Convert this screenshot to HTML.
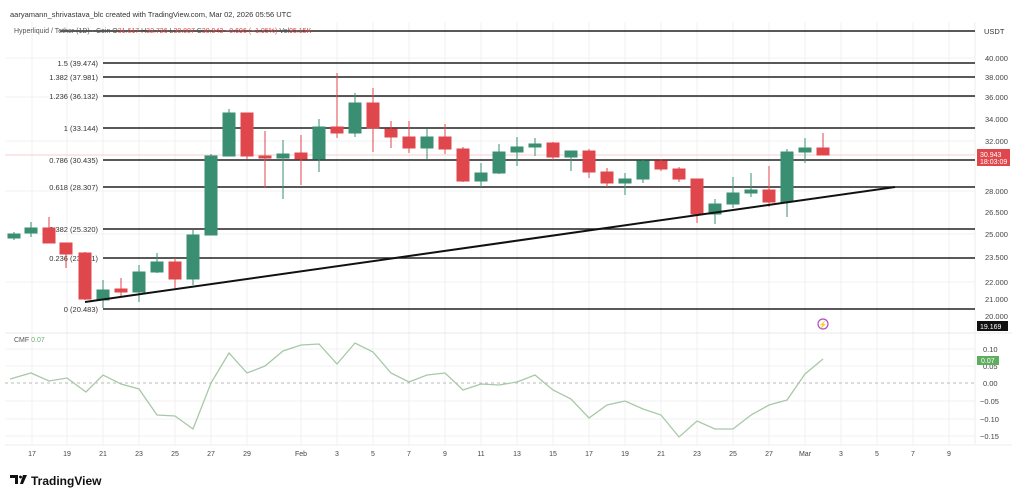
<!DOCTYPE html>
<html><head><meta charset="utf-8"><style>
html,body{margin:0;padding:0;background:#fff;}
svg{display:block;font-family:"Liberation Sans",sans-serif;}
</style></head><body>
<svg width="1024" height="502" viewBox="0 0 1024 502" xmlns="http://www.w3.org/2000/svg">
<rect width="1024" height="502" fill="#fff"/>
<text x="10" y="17" font-size="7.5" fill="#333">aaryamann_shrivastava_blc created with TradingView.com, Mar 02, 2026 05:56 UTC</text>
<!-- grid -->
<g stroke="#f0f0f0" stroke-width="1">
<line x1="32" y1="22" x2="32" y2="445"/><line x1="67" y1="22" x2="67" y2="445"/><line x1="103" y1="22" x2="103" y2="445"/><line x1="139" y1="22" x2="139" y2="445"/><line x1="175" y1="22" x2="175" y2="445"/><line x1="211" y1="22" x2="211" y2="445"/><line x1="247" y1="22" x2="247" y2="445"/><line x1="301" y1="22" x2="301" y2="445"/><line x1="337" y1="22" x2="337" y2="445"/><line x1="373" y1="22" x2="373" y2="445"/><line x1="409" y1="22" x2="409" y2="445"/><line x1="445" y1="22" x2="445" y2="445"/><line x1="481" y1="22" x2="481" y2="445"/><line x1="517" y1="22" x2="517" y2="445"/><line x1="553" y1="22" x2="553" y2="445"/><line x1="589" y1="22" x2="589" y2="445"/><line x1="625" y1="22" x2="625" y2="445"/><line x1="661" y1="22" x2="661" y2="445"/><line x1="697" y1="22" x2="697" y2="445"/><line x1="733" y1="22" x2="733" y2="445"/><line x1="769" y1="22" x2="769" y2="445"/><line x1="805" y1="22" x2="805" y2="445"/><line x1="841" y1="22" x2="841" y2="445"/><line x1="877" y1="22" x2="877" y2="445"/><line x1="913" y1="22" x2="913" y2="445"/><line x1="949" y1="22" x2="949" y2="445"/>
<line x1="5" y1="58" x2="975" y2="58"/><line x1="5" y1="97" x2="975" y2="97"/><line x1="5" y1="141" x2="975" y2="141"/><line x1="5" y1="191" x2="975" y2="191"/><line x1="5" y1="234" x2="975" y2="234"/><line x1="5" y1="282" x2="975" y2="282"/>
<line x1="5" y1="349" x2="975" y2="349"/><line x1="5" y1="366" x2="975" y2="366"/><line x1="5" y1="401" x2="975" y2="401"/><line x1="5" y1="419" x2="975" y2="419"/><line x1="5" y1="436" x2="975" y2="436"/>
</g>
<line x1="5" y1="155" x2="975" y2="155" stroke="#f3d0d0" stroke-width="1"/>
<line x1="5" y1="333" x2="1012" y2="333" stroke="#e8e8e8"/>
<line x1="5" y1="445" x2="1012" y2="445" stroke="#eee"/>
<line x1="975" y1="22" x2="975" y2="445" stroke="#eee"/>
<!-- fib lines -->
<g stroke="#222" stroke-width="1.6">
<line x1="60" y1="31" x2="975" y2="31"/>
<line x1="103" y1="63" x2="975" y2="63"/><line x1="103" y1="77" x2="975" y2="77"/><line x1="103" y1="96" x2="975" y2="96"/><line x1="103" y1="128" x2="975" y2="128"/><line x1="103" y1="160" x2="975" y2="160"/><line x1="103" y1="187" x2="975" y2="187"/><line x1="103" y1="229" x2="975" y2="229"/><line x1="103" y1="258" x2="975" y2="258"/><line x1="103" y1="309" x2="975" y2="309"/>
</g>
<g font-size="7.5" fill="#333" text-anchor="end">
<text x="98" y="66">1.5 (39.474)</text><text x="98" y="80">1.382 (37.981)</text><text x="98" y="99">1.236 (36.132)</text><text x="98" y="131">1 (33.144)</text><text x="98" y="163">0.786 (30.435)</text><text x="98" y="190">0.618 (28.307)</text><text x="98" y="232">0.382 (25.320)</text><text x="98" y="261">0.236 (23.471)</text><text x="98" y="312">0 (20.483)</text>
</g>
<text x="14" y="33" font-size="7" fill="#555">Hyperliquid / Tether (1D) · Coin  O<tspan fill="#d44">31.617</tspan> H<tspan fill="#d44">32.726</tspan> L<tspan fill="#d44">30.807</tspan> C<tspan fill="#d44">30.943 −0.696 (−1.95%)</tspan> Vol<tspan fill="#d44">95.15K</tspan></text>
<!-- candles -->
<g id="c"></g>
<g stroke-width="1">
<!-- generated below -->
<g stroke="#3a8f72" fill="#3a8f72">
<line x1="14" y1="232" x2="14" y2="240"/><rect x="8" y="234" width="12" height="4"/>
<line x1="31" y1="222" x2="31" y2="237"/><rect x="25" y="228" width="12" height="5"/>
<line x1="103" y1="280" x2="103" y2="308"/><rect x="97" y="290" width="12" height="10"/>
<line x1="139" y1="265" x2="139" y2="302"/><rect x="133" y="272" width="12" height="20"/>
<line x1="157" y1="253" x2="157" y2="273"/><rect x="151" y="262" width="12" height="10"/>
<line x1="193" y1="230" x2="193" y2="285"/><rect x="187" y="235" width="12" height="44"/>
<line x1="211" y1="154" x2="211" y2="235"/><rect x="205" y="156" width="12" height="79"/>
<line x1="229" y1="109" x2="229" y2="156"/><rect x="223" y="113" width="12" height="43"/>
<line x1="283" y1="140" x2="283" y2="199"/><rect x="277" y="154" width="12" height="4"/>
<line x1="319" y1="119" x2="319" y2="172"/><rect x="313" y="127" width="12" height="32"/>
<line x1="355" y1="93" x2="355" y2="137"/><rect x="349" y="103" width="12" height="30"/>
<line x1="427" y1="129" x2="427" y2="159"/><rect x="421" y="137" width="12" height="11"/>
<line x1="481" y1="163" x2="481" y2="187"/><rect x="475" y="173" width="12" height="8"/>
<line x1="499" y1="144" x2="499" y2="174"/><rect x="493" y="152" width="12" height="21"/>
<line x1="517" y1="137" x2="517" y2="166"/><rect x="511" y="147" width="12" height="5"/>
<line x1="535" y1="138" x2="535" y2="156"/><rect x="529" y="144" width="12" height="3"/>
<line x1="571" y1="151" x2="571" y2="171"/><rect x="565" y="151" width="12" height="6"/>
<line x1="625" y1="173" x2="625" y2="195"/><rect x="619" y="179" width="12" height="4"/>
<line x1="643" y1="160" x2="643" y2="183"/><rect x="637" y="161" width="12" height="18"/>
<line x1="715" y1="199" x2="715" y2="224"/><rect x="709" y="204" width="12" height="10"/>
<line x1="733" y1="177" x2="733" y2="208"/><rect x="727" y="193" width="12" height="11"/>
<line x1="751" y1="173" x2="751" y2="197"/><rect x="745" y="190" width="12" height="3"/>
<line x1="787" y1="149" x2="787" y2="217"/><rect x="781" y="152" width="12" height="50"/>
<line x1="805" y1="138" x2="805" y2="163"/><rect x="799" y="148" width="12" height="4"/>
</g>
<g stroke="#e0474c" fill="#e0474c">
<line x1="49" y1="217" x2="49" y2="243"/><rect x="43" y="228" width="12" height="15"/>
<line x1="66" y1="243" x2="66" y2="268"/><rect x="60" y="243" width="12" height="11"/>
<line x1="85" y1="252" x2="85" y2="300"/><rect x="79" y="253" width="12" height="46"/>
<line x1="121" y1="278" x2="121" y2="297"/><rect x="115" y="289" width="12" height="3"/>
<line x1="175" y1="258" x2="175" y2="288"/><rect x="169" y="262" width="12" height="17"/>
<line x1="247" y1="113" x2="247" y2="159"/><rect x="241" y="113" width="12" height="43"/>
<line x1="265" y1="131" x2="265" y2="188"/><rect x="259" y="156" width="12" height="2"/>
<line x1="301" y1="135" x2="301" y2="185"/><rect x="295" y="153" width="12" height="6"/>
<line x1="337" y1="73" x2="337" y2="138"/><rect x="331" y="127" width="12" height="6"/>
<line x1="373" y1="88" x2="373" y2="152"/><rect x="367" y="103" width="12" height="25"/>
<line x1="391" y1="121" x2="391" y2="148"/><rect x="385" y="129" width="12" height="8"/>
<line x1="409" y1="121" x2="409" y2="153"/><rect x="403" y="137" width="12" height="11"/>
<line x1="445" y1="124" x2="445" y2="154"/><rect x="439" y="137" width="12" height="12"/>
<line x1="463" y1="147" x2="463" y2="182"/><rect x="457" y="149" width="12" height="32"/>
<line x1="553" y1="142" x2="553" y2="160"/><rect x="547" y="143" width="12" height="14"/>
<line x1="589" y1="149" x2="589" y2="178"/><rect x="583" y="151" width="12" height="21"/>
<line x1="607" y1="168" x2="607" y2="187"/><rect x="601" y="172" width="12" height="11"/>
<line x1="661" y1="159" x2="661" y2="171"/><rect x="655" y="161" width="12" height="8"/>
<line x1="679" y1="167" x2="679" y2="182"/><rect x="673" y="169" width="12" height="10"/>
<line x1="697" y1="179" x2="697" y2="223"/><rect x="691" y="179" width="12" height="35"/>
<line x1="769" y1="166" x2="769" y2="207"/><rect x="763" y="190" width="12" height="12"/>
<line x1="823" y1="133" x2="823" y2="155"/><rect x="817" y="148" width="12" height="7"/>
</g>
</g>
<!-- trendline -->
<line x1="85" y1="302" x2="895" y2="187" stroke="#111" stroke-width="2"/>
<!-- lightning icon -->
<circle cx="823" cy="324" r="5" fill="none" stroke="#b04cc0" stroke-width="1.2"/>
<text x="823" y="327" font-size="7" fill="#b04cc0" text-anchor="middle">⚡</text>
<!-- right axis -->
<g font-size="7.5" fill="#444">
<text x="985" y="35">42.000</text><text x="985" y="61">40.000</text><text x="985" y="80">38.000</text><text x="985" y="100">36.000</text><text x="985" y="122">34.000</text><text x="985" y="144">32.000</text><text x="985" y="194">28.000</text><text x="985" y="215">26.500</text><text x="985" y="237">25.000</text><text x="985" y="260">23.500</text><text x="985" y="285">22.000</text><text x="985" y="302">21.000</text><text x="985" y="319">20.000</text>
</g>
<rect x="978" y="25" width="30" height="12" fill="#fff"/>
<text x="984" y="34" font-size="7.5" fill="#333">USDT</text>
<rect x="977" y="149" width="33" height="17" fill="#e0474c"/>
<text x="980" y="157" font-size="7" fill="#fff">30.943</text><text x="980" y="164" font-size="7" fill="#fff">18:03:09</text>
<rect x="977" y="321" width="31" height="10" fill="#111"/>
<text x="980" y="329" font-size="7" fill="#fff">19.169</text>
<!-- CMF -->
<line x1="5" y1="383" x2="975" y2="383" stroke="#bbb" stroke-dasharray="3,3"/>
<polyline fill="none" stroke="#a8c8a8" stroke-width="1.3" points="10,379 31,373 49,381 67,378 86,392 103,375 121,384 139,389 157,415 175,416 193,429 211,383 229,353 247,373 265,366 283,351 301,345 319,344 337,364 355,343 373,352 391,373 409,382 427,375 445,373 463,390 481,384 499,385 517,382 535,375 553,390 571,399 589,418 607,405 625,401 643,409 661,415 679,437 697,421 715,429 733,429 751,415 769,405 787,400 805,374 823,359"/>
<text x="14" y="342" font-size="7" fill="#555">CMF <tspan fill="#6ab06a">0.07</tspan></text>
<g font-size="7.5" fill="#444">
<text x="983" y="352">0.10</text><text x="983" y="369">0.05</text><text x="983" y="386">0.00</text><text x="980" y="404">−0.05</text><text x="980" y="422">−0.10</text><text x="980" y="439">−0.15</text>
</g>
<rect x="977" y="356" width="22" height="9" fill="#5fae5f"/>
<text x="981" y="363" font-size="7" fill="#fff">0.07</text>
<!-- x labels -->
<g font-size="7" fill="#444" text-anchor="middle">
<text x="32" y="456">17</text><text x="67" y="456">19</text><text x="103" y="456">21</text><text x="139" y="456">23</text><text x="175" y="456">25</text><text x="211" y="456">27</text><text x="247" y="456">29</text><text x="301" y="456">Feb</text><text x="337" y="456">3</text><text x="373" y="456">5</text><text x="409" y="456">7</text><text x="445" y="456">9</text><text x="481" y="456">11</text><text x="517" y="456">13</text><text x="553" y="456">15</text><text x="589" y="456">17</text><text x="625" y="456">19</text><text x="661" y="456">21</text><text x="697" y="456">23</text><text x="733" y="456">25</text><text x="769" y="456">27</text><text x="805" y="456">Mar</text><text x="841" y="456">3</text><text x="877" y="456">5</text><text x="913" y="456">7</text><text x="949" y="456">9</text>
</g>
<!-- logo -->
<text x="10" y="485" font-size="12" font-weight="bold" fill="#111">𝟏𝐕</text>
<path d="M10 475h8v3h-3v6h-3v-6h-2z M19 476a1.6 1.6 0 1 0 0.01 0z M22 475h4l-4 9h-3z" fill="#111"/>
<rect x="9" y="473" width="20" height="13" fill="#fff"/>
<path d="M10 475h8v9h-3v-6h-5z M19 477a1.5 1.5 0 1 1 0 0.01z M23 475h4l-4 9h-3z" fill="#111"/>
<text x="31" y="485" font-size="12" font-weight="bold" fill="#111">TradingView</text>
</svg>
</body></html>
